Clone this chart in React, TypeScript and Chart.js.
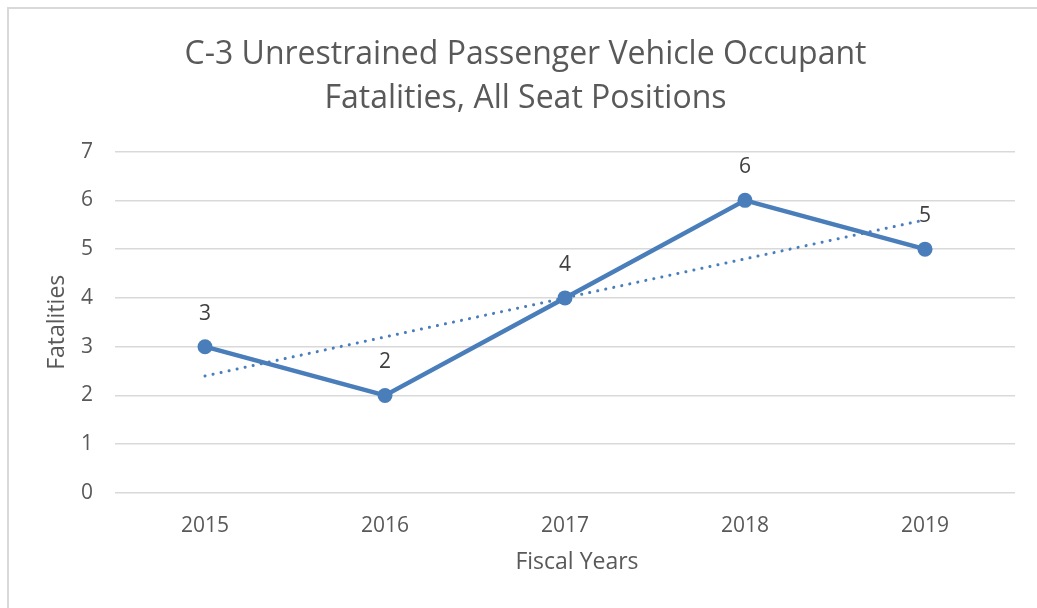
import React, { useEffect, useRef } from "react";
import { Chart, registerables } from "chart.js";

Chart.register(...registerables);

const fiscalYears = ["2015", "2016", "2017", "2018", "2019"];
const fatalities = [3, 2, 4, 6, 5];
const titleLines = ["C-3 Unrestrained Passenger Vehicle Occupant", "Fatalities, All Seat Positions"];
const xAxisTitle = "Fiscal Years";
const yAxisTitle = "Fatalities";

function linearTrend(values: number[]): number[] {
  const n = values.length;
  const mx = (n - 1) / 2;
  const my = values.reduce((a, b) => a + b, 0) / n;
  let num = 0;
  let den = 0;
  values.forEach((v, i) => {
    num += (i - mx) * (v - my);
    den += (i - mx) * (i - mx);
  });
  const slope = num / den;
  return values.map((_, i) => my + slope * (i - mx));
}

const FONT = "'Open Sans', 'Noto Sans', sans-serif";
const LINE_COLOR = "#4a7ebb";
const TEXT_COLOR = "#595959";

const dataLabels = {
  id: "dataLabels",
  afterDatasetsDraw(chart: any) {
    const meta = chart.getDatasetMeta(0);
    const ctx = chart.ctx;
    ctx.save();
    ctx.font = `21px ${FONT}`;
    ctx.fillStyle = "#404040";
    ctx.textAlign = "center";
    ctx.textBaseline = "middle";
    meta.data.forEach((pt: any, i: number) => {
      ctx.fillText(String(fatalities[i]), pt.x, pt.y - 33);
    });
    ctx.restore();
  },
};

const xTitlePlugin = {
  id: "xTitlePlugin",
  afterDraw(chart: any) {
    const ctx = chart.ctx;
    const area = chart.chartArea;
    ctx.save();
    ctx.font = `23px ${FONT}`;
    ctx.fillStyle = TEXT_COLOR;
    ctx.textAlign = "center";
    ctx.textBaseline = "middle";
    ctx.fillText(xAxisTitle, (area.left + area.right) / 2 + 12, area.bottom + 69);
    ctx.restore();
  },
};

export default function App() {
  const ref = useRef<HTMLCanvasElement>(null);
  useEffect(() => {
    document.body.style.overflow = "hidden";
    const chart = new Chart(ref.current!, {
      type: "line",
      data: {
        labels: fiscalYears,
        datasets: [
          {
            data: fatalities,
            borderColor: LINE_COLOR,
            backgroundColor: LINE_COLOR,
            borderWidth: 4.5,
            pointRadius: 7.5,
            pointHoverRadius: 7.5,
            pointBackgroundColor: LINE_COLOR,
            pointBorderWidth: 0,
            tension: 0,
            order: 1,
          },
          {
            data: linearTrend(fatalities),
            borderColor: LINE_COLOR,
            borderWidth: 3,
            borderDash: [0.1, 8.1],
            borderCapStyle: "round",
            pointRadius: 0,
            tension: 0,
            order: 2,
          },
        ],
      },
      options: {
        responsive: false,
        animation: false,
        layout: { padding: { left: 36, right: 22, top: 0, bottom: 0 } },
        plugins: {
          legend: { display: false },
          tooltip: { enabled: false },
          title: {
            display: true,
            text: titleLines,
            color: TEXT_COLOR,
            font: { family: FONT, size: 32, weight: "normal", lineHeight: 1.4 },
            padding: { top: 32, bottom: 30 },
          },
        },
        scales: {
          x: {
            offset: true,
            grid: { display: false, drawTicks: false },
            border: { display: false },
            ticks: { color: TEXT_COLOR, font: { family: FONT, size: 21 }, padding: 20 },
            title: { display: false },
            afterFit(scale: any) {
              scale.height = 115;
            },
          },
          y: {
            min: 0,
            max: 7,
            grid: { color: "#d9d9d9", lineWidth: 1.5, drawTicks: false },
            border: { display: false },
            ticks: { stepSize: 1, color: TEXT_COLOR, font: { family: FONT, size: 21 }, padding: 22 },
            title: {
              display: true,
              text: yAxisTitle,
              color: TEXT_COLOR,
              font: { family: FONT, size: 23 },
              padding: { top: 8, bottom: 0 },
            },
            afterFit(scale: any) {
              scale.width = 79;
            },
          },
        },
      },
      plugins: [dataLabels, xTitlePlugin],
    });
    return () => chart.destroy();
  }, []);
  return (
    <div style={{ position: "fixed", left: 0, top: 0, width: 1037, height: 608, background: "#fff" }}>
      <div
        style={{
          position: "absolute",
          left: 7,
          top: 7,
          width: 1040,
          height: 610,
          borderLeft: "2px solid #d9d9d9",
          borderTop: "2px solid #d9d9d9",
        }}
      />
      <canvas ref={ref} width={1037} height={608} style={{ position: "absolute", left: 0, top: 0 }} />
    </div>
  );
}
